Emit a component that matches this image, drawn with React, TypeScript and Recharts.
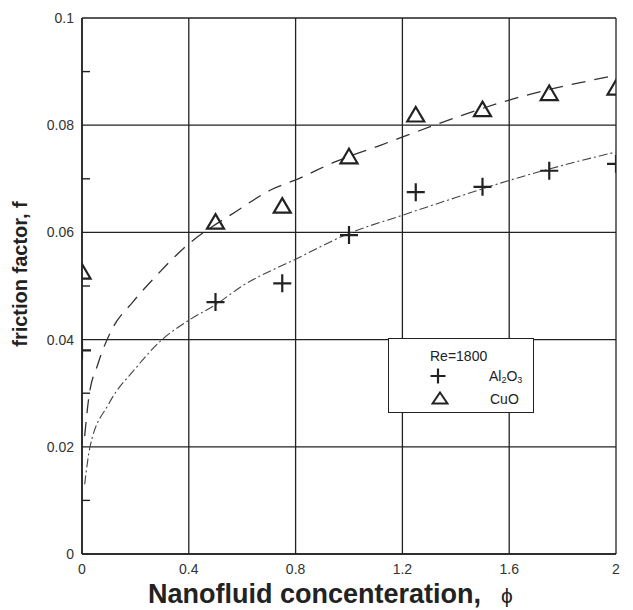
import React from 'react';
import {
  ComposedChart,
  Line,
  Scatter,
  XAxis,
  YAxis,
  CartesianGrid,
  ReferenceLine,
} from 'recharts';

// ---- data ----
const phiTicks = [0, 0.4, 0.8, 1.2, 1.6, 2];
const fTicks = [0, 0.02, 0.04, 0.06, 0.08, 0.1];
const fMinorTicks = [0.01, 0.03, 0.05, 0.07, 0.09];

const phiMeasured = [0, 0.5, 0.75, 1.0, 1.25, 1.5, 1.75, 2.0];
const al2o3F = [0.038, 0.047, 0.0505, 0.0595, 0.0675, 0.0685, 0.0715, 0.0728];
const cuoF = [0.0527, 0.062, 0.065, 0.0742, 0.082, 0.083, 0.086, 0.087];

const al2o3FitPhi = [0.01, 0.03, 0.1, 0.2, 0.3, 0.4, 0.5, 0.6, 0.8, 1.0, 1.2, 1.4, 1.6, 1.8, 2.0];
const al2o3FitF = [0.013, 0.02, 0.028, 0.0346, 0.04, 0.0436, 0.0465, 0.05, 0.055, 0.0598, 0.0632, 0.0665, 0.0697, 0.0725, 0.075];

const cuoFitPhi = [0.01, 0.025, 0.06, 0.11, 0.19, 0.28, 0.38, 0.58, 0.71, 0.81, 0.94, 1.12, 1.32, 1.6, 2.0];
const cuoFitF = [0.022, 0.029, 0.0355, 0.0417, 0.047, 0.052, 0.057, 0.064, 0.068, 0.07, 0.073, 0.0763, 0.08, 0.0847, 0.0893];

const reynoldsLabel = 'Re=1800';

// ---- tables built from the arrays ----
const al2o3Points = phiMeasured.map((x, i) => ({ x, y: al2o3F[i] }));
const cuoPoints = phiMeasured.map((x, i) => ({ x, y: cuoF[i] }));
const al2o3Fit = al2o3FitPhi.map((x, i) => ({ x, y: al2o3FitF[i] }));
const cuoFit = cuoFitPhi.map((x, i) => ({ x, y: cuoFitF[i] }));

const INK = '#222';
const FONT = '"Liberation Sans", Arial, Helvetica, sans-serif';

const PlusShape = (props: any) => {
  const { cx, cy } = props;
  if (cx == null || cy == null) return null;
  return (
    <path
      d={`M${cx - 9},${cy}h18M${cx},${cy - 9}v18`}
      stroke={INK}
      strokeWidth={2.2}
      fill="none"
    />
  );
};

const TriangleShape = (props: any) => {
  const { cx, cy } = props;
  if (cx == null || cy == null) return null;
  return (
    <path
      d={`M${cx},${cy - 7.5}L${cx + 8.5},${cy + 7}L${cx - 8.5},${cy + 7}Z`}
      stroke={INK}
      strokeWidth={2.2}
      fill="none"
      strokeLinejoin="miter"
    />
  );
};

const LegendBox = () => (
  <div
    style={{
      position: 'absolute',
      left: 388,
      top: 338,
      boxSizing: 'border-box',
      width: 146,
      height: 75,
      border: `1.5px solid ${INK}`,
      background: '#fff',
      fontFamily: FONT,
      fontSize: 14,
      color: INK,
    }}
  >
    <div style={{ position: 'absolute', left: 41, top: 9, lineHeight: '16px' }}>{reynoldsLabel}</div>
    <svg style={{ position: 'absolute', left: 40, top: 28 }} width={18} height={18}>
      <path d="M1.5,9h15M9,1.5v15" stroke={INK} strokeWidth={2.2} fill="none" />
    </svg>
    <div style={{ position: 'absolute', left: 100, top: 29, lineHeight: '16px' }}>
      Al<sub style={{ fontSize: 9, verticalAlign: '-2px' }}>2</sub>O
      <sub style={{ fontSize: 9, verticalAlign: '-2px' }}>3</sub>
    </div>
    <svg style={{ position: 'absolute', left: 42, top: 52 }} width={18} height={14}>
      <path d="M9,1.5L16.5,12.5L1.5,12.5Z" stroke={INK} strokeWidth={2} fill="none" />
    </svg>
    <div style={{ position: 'absolute', left: 101, top: 52, lineHeight: '16px' }}>CuO</div>
  </div>
);

const XTitle = (props: any) => {
  const vb = props.viewBox || {};
  return (
    <text
      x={vb.x + 66}
      y={vb.y + 49}
      fontFamily={FONT}
      fontSize={27}
      fontWeight="bold"
      fill={INK}
      textAnchor="start"
    >
      Nanofluid concenteration,
      <tspan dx={20} fontSize={21} fontWeight="normal">ϕ</tspan>
    </text>
  );
};

const YTitle = (props: any) => {
  const vb = props.viewBox || {};
  const cx = vb.x + 27;
  const cy = vb.y + 256;
  return (
    <text
      x={cx}
      y={cy}
      transform={`rotate(-90 ${cx} ${cy})`}
      fontFamily={FONT}
      fontSize={20}
      fontWeight="bold"
      fill={INK}
      textAnchor="middle"
    >
      friction factor, f
    </text>
  );
};

export default function App() {
  return (
    <div style={{ position: 'absolute', left: 0, top: 0, width: 633, height: 610, background: '#fff' }}>
      <ComposedChart
        width={633}
        height={610}
        margin={{ top: 18, right: 17, bottom: 0, left: 0 }}
      >
        <CartesianGrid
          stroke={INK}
          strokeWidth={1.3}
          horizontalValues={fTicks}
          verticalValues={phiTicks}
        />
        <XAxis
          dataKey="x"
          type="number"
          domain={[0, 2]}
          ticks={phiTicks}
          allowDataOverflow
          height={56}
          axisLine={{ stroke: INK, strokeWidth: 1.6 }}
          tickLine={false}
          tick={{ fill: '#333', fontSize: 14, fontFamily: FONT }}
          tickMargin={4}
          label={<XTitle />}
        />
        <YAxis
          dataKey="y"
          type="number"
          domain={[0, 0.1]}
          ticks={fTicks}
          allowDataOverflow
          width={82}
          axisLine={{ stroke: INK, strokeWidth: 1.6 }}
          tickLine={false}
          tick={{ fill: '#333', fontSize: 14, fontFamily: FONT }}
          tickMargin={2}
          label={<YTitle />}
        />
        {fMinorTicks.map((v) => (
          <ReferenceLine
            key={v}
            segment={[
              { x: 0, y: v },
              { x: 0.03, y: v },
            ]}
            stroke={INK}
            strokeWidth={1.4}
          />
        ))}
        <Line
          data={al2o3Fit}
          dataKey="y"
          type="monotone"
          stroke="#444"
          strokeWidth={1.1}
          strokeDasharray="9 3 2 3"
          dot={false}
          activeDot={false}
          isAnimationActive={false}
          legendType="none"
        />
        <Line
          data={cuoFit}
          dataKey="y"
          type="monotone"
          stroke="#333"
          strokeWidth={1.3}
          strokeDasharray="14 9"
          dot={false}
          activeDot={false}
          isAnimationActive={false}
          legendType="none"
        />
        <Scatter
          name="Al2O3"
          data={al2o3Points}
          dataKey="y"
          shape={<PlusShape />}
          isAnimationActive={false}
        />
        <Scatter
          name="CuO"
          data={cuoPoints}
          dataKey="y"
          shape={<TriangleShape />}
          isAnimationActive={false}
        />
      </ComposedChart>
      <LegendBox />
    </div>
  );
}
